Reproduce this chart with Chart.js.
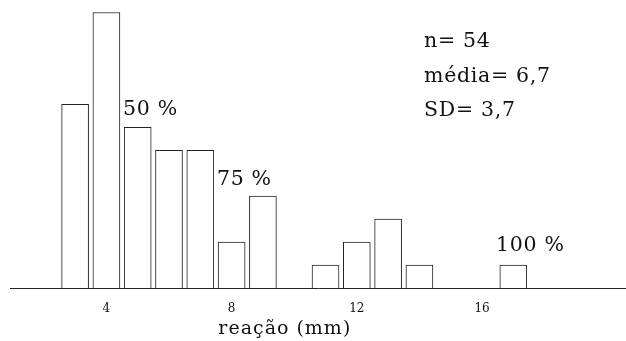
<!DOCTYPE html>
<html>
<head>
<meta charset="utf-8">
<script src="https://cdn.jsdelivr.net/npm/chart.js@4.4.1/dist/chart.umd.min.js"></script>
<style>
  html, body { margin: 0; padding: 0; background: #fff; }
  #wrap { width: 626px; height: 341px; }
</style>
</head>
<body>
<div id="wrap"><canvas id="chart"></canvas></div>
<script>
// reaction size (mm) and frequency
const sizes = [3, 4, 5, 6, 7, 8, 9, 10, 11, 12, 13, 14, 15, 16, 17];
const counts = [8, 12, 7, 6, 6, 2, 4, null, 1, 2, 3, 1, null, null, 1];
const tickValues = [4, 8, 12, 16];

// percentile marks, anchored in data units (left edge, baseline)
const pctLabels = ['50 %', '75 %', '100 %'];
const pctX = [4.53, 7.53, 16.45];
const pctY = [7.55, 4.5, 1.6];

const statsLines = ['n= 54', 'média= 6,7', 'SD= 3,7'];
const axisTitle = 'reação (mm)';

const FONT = '"DejaVu Serif", serif';

const textPlugin = {
    id: 'texts',
    afterDatasetsDraw(chart) {
        const { ctx, scales: { x, y } } = chart;
        ctx.save();
        ctx.fillStyle = '#111';
        ctx.font = '20.5px ' + FONT;
        ctx.letterSpacing = '0.7px';
        ctx.textAlign = 'left';
        ctx.textBaseline = 'alphabetic';
        pctLabels.forEach((t, i) => {
            ctx.fillText(t, x.getPixelForValue(pctX[i]), y.getPixelForValue(pctY[i]));
        });
        // stats block, top right
        statsLines.forEach((t, i) => {
            ctx.fillText(t, 424, 47 + i * 34.5);
        });
        // axis title
        ctx.font = '19px ' + FONT;
        ctx.letterSpacing = '1px';
        ctx.textAlign = 'center';
        ctx.fillText(axisTitle, x.getPixelForValue(9.7), 334);
        ctx.restore();
    }
};

const data = {
    datasets: [{
        data: sizes.map((s, i) => ({ x: s, y: counts[i] })),
        backgroundColor: '#fff',
        borderColor: '#222',
        borderWidth: 1,
        barThickness: 27,
    }]
};

new Chart(document.getElementById('chart'), {
    type: 'bar',
    data,
    plugins: [textPlugin],
    options: {
        responsive: true,
        maintainAspectRatio: false,
        animation: false,
        layout: { padding: { left: 10, right: 0, top: 1, bottom: 10.6 } },
        plugins: { legend: { display: false }, tooltip: { enabled: false } },
        scales: {
            x: {
                type: 'linear',
                offset: false,
                min: 0.92,
                max: 20.6,
                grid: { display: false, drawTicks: false },
                border: { display: true, color: '#222', width: 1 },
                afterBuildTicks: (s) => { s.ticks = tickValues.map(v => ({ value: v })); },
                ticks: {
                    color: '#111',
                    padding: 14,
                    font: { family: FONT, size: 12 },
                },
            },
            y: {
                display: false,
                min: 0,
                max: 12.5,
            }
        }
    }
});
</script>
</body>
</html>
